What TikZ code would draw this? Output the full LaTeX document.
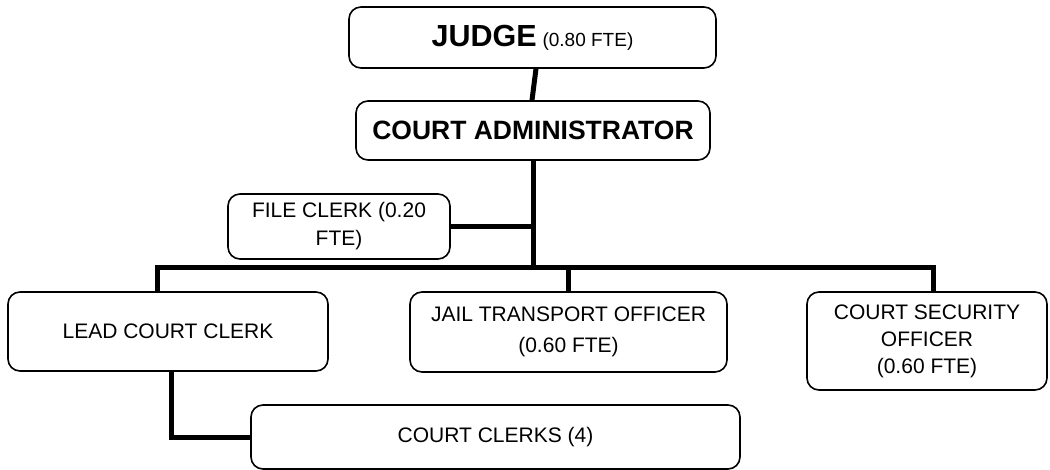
\documentclass[tikz,border=0pt]{standalone}
\usepackage{fontspec}
\setmainfont{Liberation Sans}
\begin{document}
\begin{tikzpicture}[x=1pt,y=-1pt,
  box/.style={draw, line width=1.6pt, rounded corners=12pt, align=center, inner sep=0pt, fill=white,
              font=\fontsize{21}{27}\selectfont},
  link/.style={line width=5pt, line join=miter}]
\useasboundingbox (0,0) rectangle (1050,470);
\coordinate (busL) at (157,268);
\coordinate (busR) at (933,268);
\node[box, minimum width=367pt, minimum height=61pt] (judge) at (532.5,37.5)
  {{\fontsize{30.5}{32}\selectfont\bfseries JUDGE} {\fontsize{19}{20}\selectfont (0.80 FTE)}};
\node[box, minimum width=354pt, minimum height=59pt] (admin) at (533,130.5)
  {\fontsize{26.5}{28}\selectfont\bfseries COURT ADMINISTRATOR};
\node[box, minimum width=222pt, minimum height=65pt,
      font=\fontsize{21}{28}\selectfont] (file) at (339,226.5)
  {\raisebox{-3pt}{\parbox{200pt}{\centering FILE CLERK (0.20\\FTE)}}};
\node[box, minimum width=320pt, minimum height=79pt] (lead) at (168,331.5)
  {LEAD COURT CLERK};
\node[box, minimum width=317pt, minimum height=80pt,
      font=\fontsize{21}{31}\selectfont] (jail) at (568.5,332)
  {JAIL TRANSPORT OFFICER\\(0.60 FTE)};
\node[box, minimum width=240pt, minimum height=98pt] (sec) at (927,341)
  {COURT SECURITY\\OFFICER\\(0.60 FTE)};
\node[box, minimum width=489pt, minimum height=64pt] (clerks) at (495.5,437)
  {COURT CLERKS (4)};
% connectors
\draw[link] ([xshift=3.5pt]judge.south) -- ([xshift=-1pt]admin.north);
\draw[link] (admin.south) -- (admin.south |- busL);
\draw[link] (file.east) -- (file.east -| admin.south);
\draw[link] (lead.north -| busL) -- (busL) -- (busR) -- (sec.north -| busR);
\draw[link] (jail.north) -- (jail.north |- busL);
\draw[link] ([xshift=3pt]lead.south) |- (clerks.west);
\end{tikzpicture}
\end{document}
